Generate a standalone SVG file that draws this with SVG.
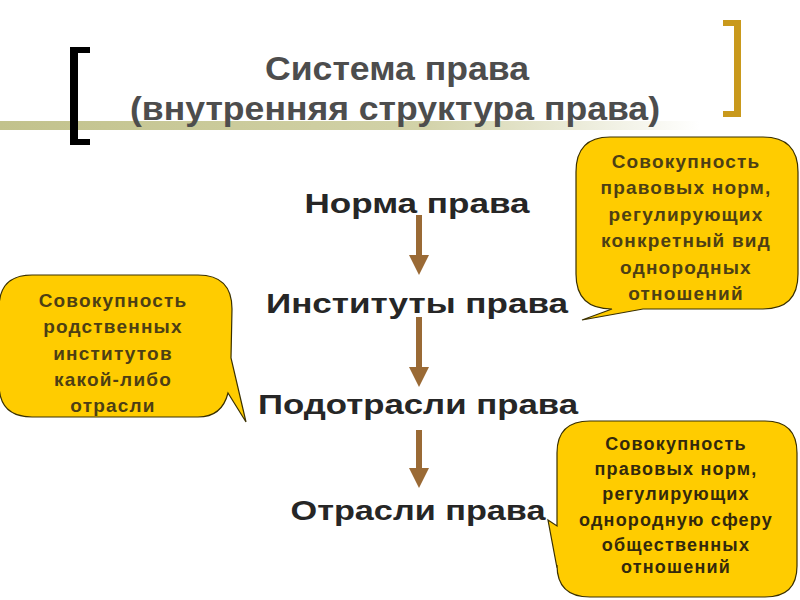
<svg xmlns="http://www.w3.org/2000/svg" width="800" height="600" viewBox="0 0 800 600">
<defs>
<linearGradient id="band" x1="0" y1="0" x2="1" y2="0">
<stop offset="0" stop-color="#c2c28c"/>
<stop offset="0.6" stop-color="#d2d2a8"/>
<stop offset="1" stop-color="#ffffff"/>
</linearGradient>
</defs>
<style>
.title{font-family:"Liberation Sans",Arial,sans-serif;font-weight:bold;font-size:33px;fill:#4d4d4d;text-anchor:middle}
.main{font-family:"Liberation Sans",Arial,sans-serif;font-weight:bold;font-size:28px;fill:#262626;text-anchor:middle}
.bub{fill:#ffcc00;stroke:#3a3000;stroke-width:1.2}
.bt{font-family:"Liberation Sans",Arial,sans-serif;font-weight:bold;font-size:19px;letter-spacing:1.2px;fill:#4d3f14;text-anchor:middle}
.bt3{fill:#33290c;font-size:18px;letter-spacing:1.2px}
.shaft{fill:#9a6a35}
</style>
<rect width="800" height="600" fill="#ffffff"/>
<rect x="0" y="121" width="700" height="9" fill="url(#band)"/>
<g id="bracket-left" fill="#000000">
<rect x="70" y="47" width="8" height="98"/>
<rect x="70" y="47" width="20" height="6"/>
<rect x="70" y="139" width="20" height="6"/>
</g>
<g id="bracket-right" fill="#c9991c">
<rect x="734" y="20" width="7" height="97"/>
<rect x="723" y="20" width="18" height="6"/>
<rect x="723" y="111" width="18" height="6"/>
</g>
<g id="title">
<text class="title" x="397" y="80" textLength="264" lengthAdjust="spacingAndGlyphs">Система права</text>
<text class="title" x="395" y="120" textLength="530" lengthAdjust="spacingAndGlyphs">(внутренняя структура права)</text>
</g>
<g id="connectors">
<rect class="shaft" x="416" y="215" width="6" height="41"/>
<path d="M409,255 L429,255 L419,275 Z" fill="#9a6a35"/>
<rect class="shaft" x="416" y="317" width="6" height="52"/>
<path d="M409,367 L429,367 L419,387 Z" fill="#9a6a35"/>
<rect class="shaft" x="416" y="430" width="6" height="39"/>
<path d="M409,468 L429,468 L419,488 Z" fill="#9a6a35"/>
</g>
<g id="node-norma"><text class="main" x="417" y="213" textLength="225" lengthAdjust="spacingAndGlyphs">Норма права</text></g>
<g id="node-instituty"><text class="main" x="417" y="313" textLength="302" lengthAdjust="spacingAndGlyphs">Институты права</text></g>
<g id="node-podotrasli"><text class="main" x="418" y="414" textLength="320" lengthAdjust="spacingAndGlyphs">Подотрасли права</text></g>
<g id="node-otrasli"><text class="main" x="418" y="520" textLength="255" lengthAdjust="spacingAndGlyphs">Отрасли права</text></g>
<g id="callout-top">
<path class="bub" d="M610,137 L763,137 Q798,137 798,172 L798,274 Q798,309 763,309 L643,309 L582,320 L612,309 Q576,309 576,274 L576,172 Q576,137 610,137 Z"/>
<text class="bt" x="686" y="168">Совокупность</text>
<text class="bt" x="686" y="194">правовых норм,</text>
<text class="bt" x="686" y="221">регулирующих</text>
<text class="bt" x="686" y="247">конкретный вид</text>
<text class="bt" x="686" y="274">однородных</text>
<text class="bt" x="686" y="300">отношений</text>
</g>
<g id="callout-left">
<path class="bub" d="M32,275 L198,275 Q232,275 232,309 L231,358 L246,422 L228,393 Q222,417 198,417 L32,417 Q-1,417 -1,384 L-1,308 Q-1,275 32,275 Z"/>
<text class="bt" x="113" y="307">Совокупность</text>
<text class="bt" x="113" y="333">родственных</text>
<text class="bt" x="113" y="360">институтов</text>
<text class="bt" x="113" y="386">какой-либо</text>
<text class="bt" x="113" y="412">отрасли</text>
</g>
<g id="callout-bottom">
<path class="bub" d="M590,421 L765,421 Q797,421 797,453 L797,566 Q797,597 765,597 L590,597 Q557,597 557,565 L557,568 L548,520 L557,526 L557,453 Q557,421 590,421 Z"/>
<text class="bt bt3" x="676" y="450">Совокупность</text>
<text class="bt bt3" x="676" y="475">правовых норм,</text>
<text class="bt bt3" x="676" y="500">регулирующих</text>
<text class="bt bt3" x="676" y="526">однородную сферу</text>
<text class="bt bt3" x="676" y="551">общественных</text>
<text class="bt bt3" x="676" y="573">отношений</text>
</g>
</svg>
